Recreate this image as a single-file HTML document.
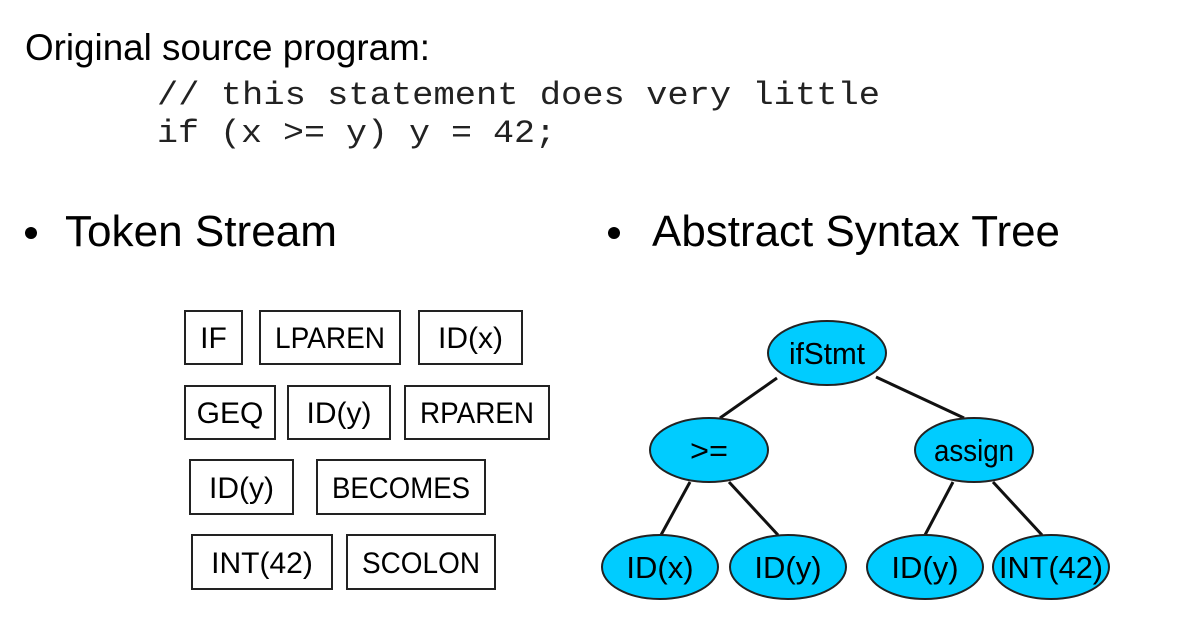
<!DOCTYPE html>
<html><head><meta charset="utf-8"><style>html,body{margin:0;padding:0;background:#fff}</style></head>
<body>
<svg width="1180" height="619" viewBox="0 0 1180 619" xmlns="http://www.w3.org/2000/svg">
<g font-family="Liberation Sans, sans-serif" fill="#000">
<text x="25" y="60" font-size="37" textLength="405" lengthAdjust="spacingAndGlyphs">Original source program:</text>
<text x="157" y="104" font-family="Liberation Mono, monospace" font-size="32" fill="#222" textLength="723" lengthAdjust="spacingAndGlyphs">// this statement does very little</text>
<text x="157" y="142" font-family="Liberation Mono, monospace" font-size="32" fill="#222" textLength="399" lengthAdjust="spacingAndGlyphs">if (x &gt;= y) y = 42;</text>
<circle cx="31" cy="233" r="6"/>
<text x="65" y="246" font-size="44" textLength="272" lengthAdjust="spacingAndGlyphs">Token Stream</text>
<circle cx="614" cy="233" r="6"/>
<text x="652" y="246" font-size="44" textLength="408" lengthAdjust="spacingAndGlyphs">Abstract Syntax Tree</text>
</g>
<g fill="none" stroke="#222" stroke-width="2">
<rect x="185" y="311" width="57" height="53"/>
<rect x="260" y="311" width="140" height="53"/>
<rect x="419" y="311" width="103" height="53"/>
<rect x="185" y="386" width="90" height="53"/>
<rect x="288" y="386" width="102" height="53"/>
<rect x="405" y="386" width="144" height="53"/>
<rect x="190" y="460" width="103" height="54"/>
<rect x="317" y="460" width="168" height="54"/>
<rect x="192" y="535" width="140" height="54"/>
<rect x="347" y="535" width="148" height="54"/>
</g>
<g font-family="Liberation Sans, sans-serif" font-size="30" fill="#000" text-anchor="middle">
<text x="213.5" y="348">IF</text>
<text x="330" y="348" textLength="110" lengthAdjust="spacingAndGlyphs">LPAREN</text>
<text x="470.5" y="348">ID(x)</text>
<text x="230" y="423">GEQ</text>
<text x="339" y="423">ID(y)</text>
<text x="477" y="423" textLength="114" lengthAdjust="spacingAndGlyphs">RPAREN</text>
<text x="241.5" y="498">ID(y)</text>
<text x="401" y="498" textLength="138" lengthAdjust="spacingAndGlyphs">BECOMES</text>
<text x="262" y="573">INT(42)</text>
<text x="421" y="573" textLength="118" lengthAdjust="spacingAndGlyphs">SCOLON</text>
</g>
<g stroke="#111" stroke-width="3">
<line x1="777" y1="378" x2="720" y2="418"/>
<line x1="876" y1="377" x2="964" y2="418"/>
<line x1="690" y1="482" x2="661" y2="535"/>
<line x1="729" y1="482" x2="778" y2="535"/>
<line x1="953" y1="482" x2="925" y2="535"/>
<line x1="993" y1="482" x2="1042" y2="535"/>
</g>
<g fill="#00ccff" stroke="#222" stroke-width="2">
<ellipse cx="827" cy="353" rx="59" ry="32"/>
<ellipse cx="709" cy="450" rx="59" ry="32"/>
<ellipse cx="974" cy="450" rx="59" ry="32"/>
<ellipse cx="660" cy="567" rx="58" ry="32"/>
<ellipse cx="788" cy="567" rx="58" ry="32"/>
<ellipse cx="925" cy="567" rx="58" ry="32"/>
<ellipse cx="1051" cy="567" rx="58" ry="32"/>
</g>
<g font-family="Liberation Sans, sans-serif" font-size="31" fill="#000" text-anchor="middle">
<text x="827" y="364" textLength="76" lengthAdjust="spacingAndGlyphs">ifStmt</text>
<text x="709" y="461" textLength="38" lengthAdjust="spacingAndGlyphs">&gt;=</text>
<text x="974" y="461" textLength="80" lengthAdjust="spacingAndGlyphs">assign</text>
<text x="660" y="578">ID(x)</text>
<text x="788" y="578">ID(y)</text>
<text x="925" y="578">ID(y)</text>
<text x="1051" y="578" textLength="104" lengthAdjust="spacingAndGlyphs">INT(42)</text>
</g>
</svg>
</body></html>
